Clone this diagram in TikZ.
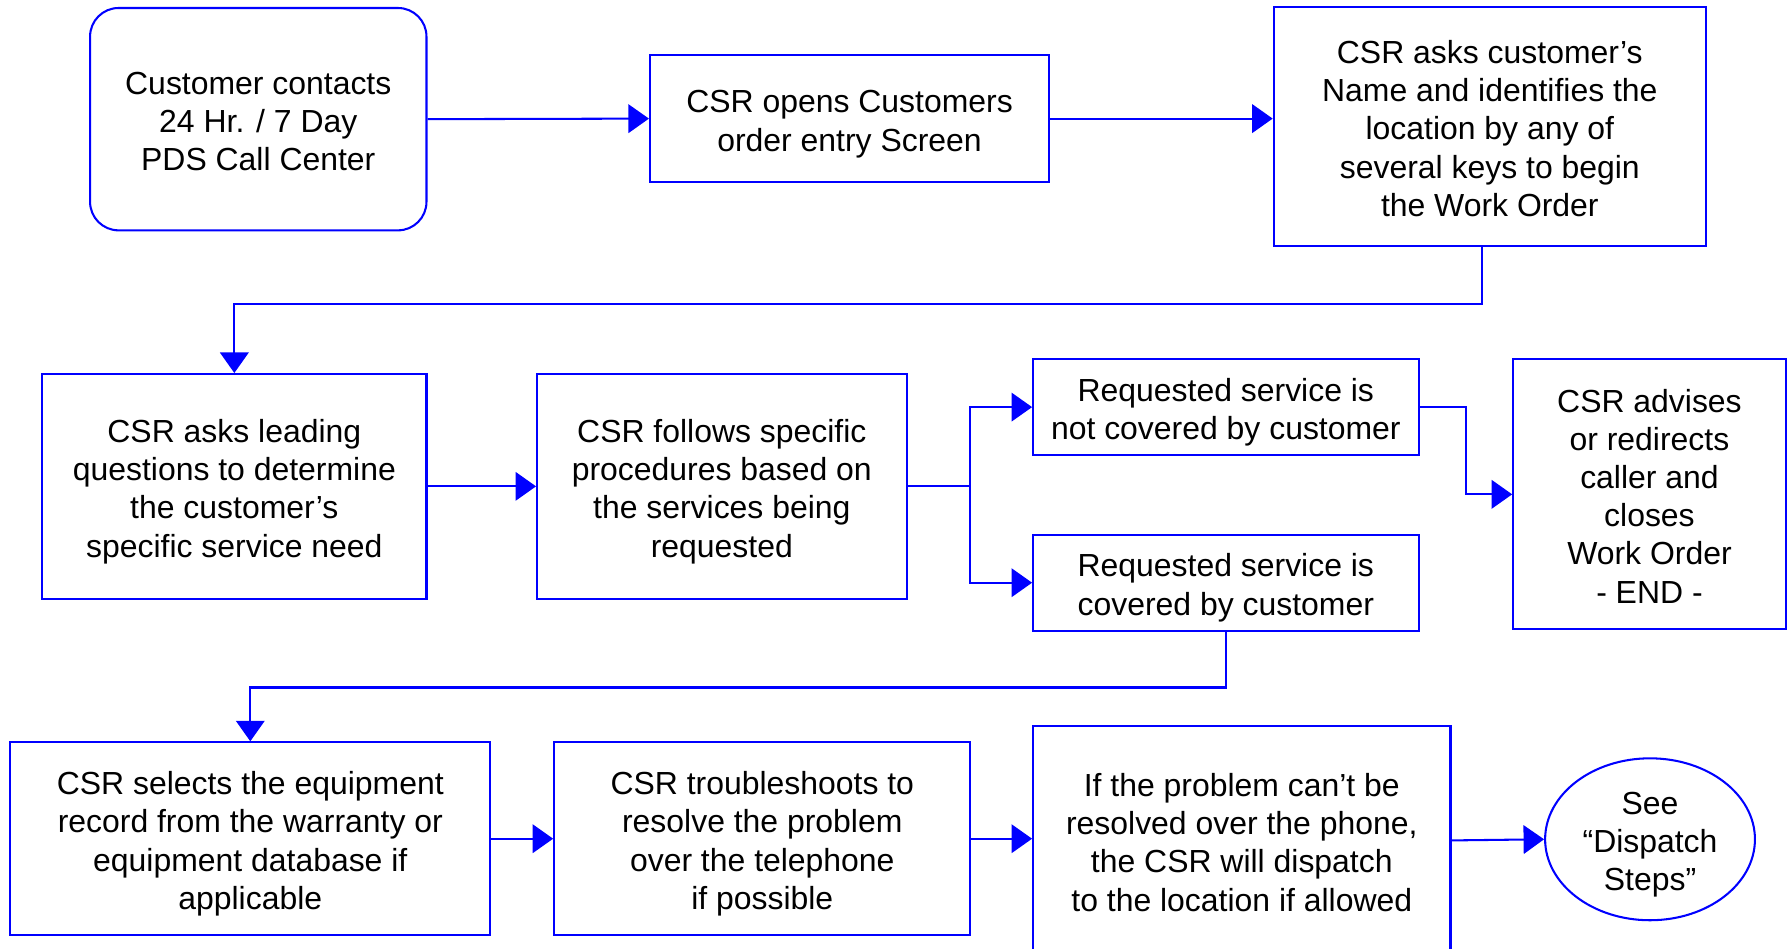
\documentclass[tikz,border=0pt]{standalone}
\usepackage{fontspec}
\setmainfont{Liberation Sans}
\usetikzlibrary{arrows.meta,shapes.geometric}
\definecolor{flowblue}{RGB}{0,0,255}
\newcommand{\topstrut}{\rule{0pt}{14.7pt}}
\tikzset{
  box/.style={draw=flowblue, line width=0.9pt, rectangle, inner sep=0pt, align=center,
    font=\fontsize{14pt}{16.75pt}\selectfont, text=black,
    execute at end node={\rule[-3pt]{0pt}{0pt}}},
  rbox/.style={box, rounded corners=12.5pt},
  oval/.style={box, ellipse, inner sep=-1pt},
  arr/.style={draw=flowblue, line width=0.9pt, -{Triangle[length=9pt,width=12.5pt]}}
}
\begin{document}
\begin{tikzpicture}[x=0.5pt,y=-0.5pt]
\useasboundingbox (0,0) rectangle (1568,832);
\clip (0,0) rectangle (1568,832);
% row 1
\node[rbox, minimum width=147.5pt, minimum height=97.5pt] (A) at (226.5,104.5)
  {\topstrut Customer contacts\\24 Hr. / 7 Day\\PDS Call Center};
\node[box, minimum width=175pt, minimum height=56pt] (B) at (745,104)
  {\topstrut CSR opens Customers\\order entry Screen};
\node[box, minimum width=189.5pt, minimum height=105pt] (C) at (1306.5,111)
  {\topstrut CSR asks customer’s\\Name and identifies the\\location by any of\\several keys to begin\\the Work Order};
% row 2
\node[box, minimum width=168.5pt, minimum height=98.5pt] (D) at (205.5,426.5)
  {\topstrut CSR asks leading\\questions to determine\\the customer’s\\specific service need};
\node[box, minimum width=162pt, minimum height=98.5pt] (E) at (633,426.5)
  {\topstrut CSR follows specific\\procedures based on\\the services being\\requested};
\node[box, minimum width=169pt, minimum height=42pt] (F) at (1075,357)
  {\topstrut Requested service is\\not covered by customer};
\node[box, minimum width=169pt, minimum height=42pt] (G) at (1075,511)
  {\topstrut Requested service is\\covered by customer};
\node[box, minimum width=119.5pt, minimum height=118.5pt] (H) at (1446.5,433.5)
  {\topstrut CSR advises\\or redirects\\caller and\\closes\\Work Order\\- END -};
% row 3
\node[box, minimum width=210.5pt, minimum height=84.5pt] (I) at (219.5,735.5)
  {\topstrut CSR selects the equipment\\record from the warranty or\\equipment database if\\applicable};
\node[box, minimum width=182.5pt, minimum height=84.5pt] (J) at (668.5,735.5)
  {\topstrut CSR troubleshoots to\\resolve the problem\\over the telephone\\if possible};
\node[box, minimum width=183pt, minimum height=100pt] (K) at (1089,737)
  {\topstrut If the problem can’t be\\resolved over the phone,\\the CSR will dispatch\\to the location if allowed};
\node[oval, minimum width=92pt, minimum height=71pt] (L) at (1447,736)
  {\topstrut See\\“Dispatch\\Steps”};
% connectors
\draw[arr] (A.east) -- (B.west);
\draw[arr] (B.east) -- (B.east -| C.west);
\draw[arr] ([xshift=-3.5pt]C.south) -- ++(0,50) -| (D.north);
\draw[arr] (D.east) -- (E.west);
\draw[arr] (E.east) -- ++(55,0) |- (F.west);
\draw[arr] (E.east) -- ++(55,0) |- (G.west);
\draw[arr] (F.east) -- ++(41,0) |- (H.west);
\draw[arr] (G.south) -- ++(0,49) -| (I.north);
\draw[arr] (I.east) -- (J.west);
\draw[arr] (J.east) -- (J.east -| K.west);
\draw[arr] (K.east) -- (L.west);
\end{tikzpicture}
\end{document}
